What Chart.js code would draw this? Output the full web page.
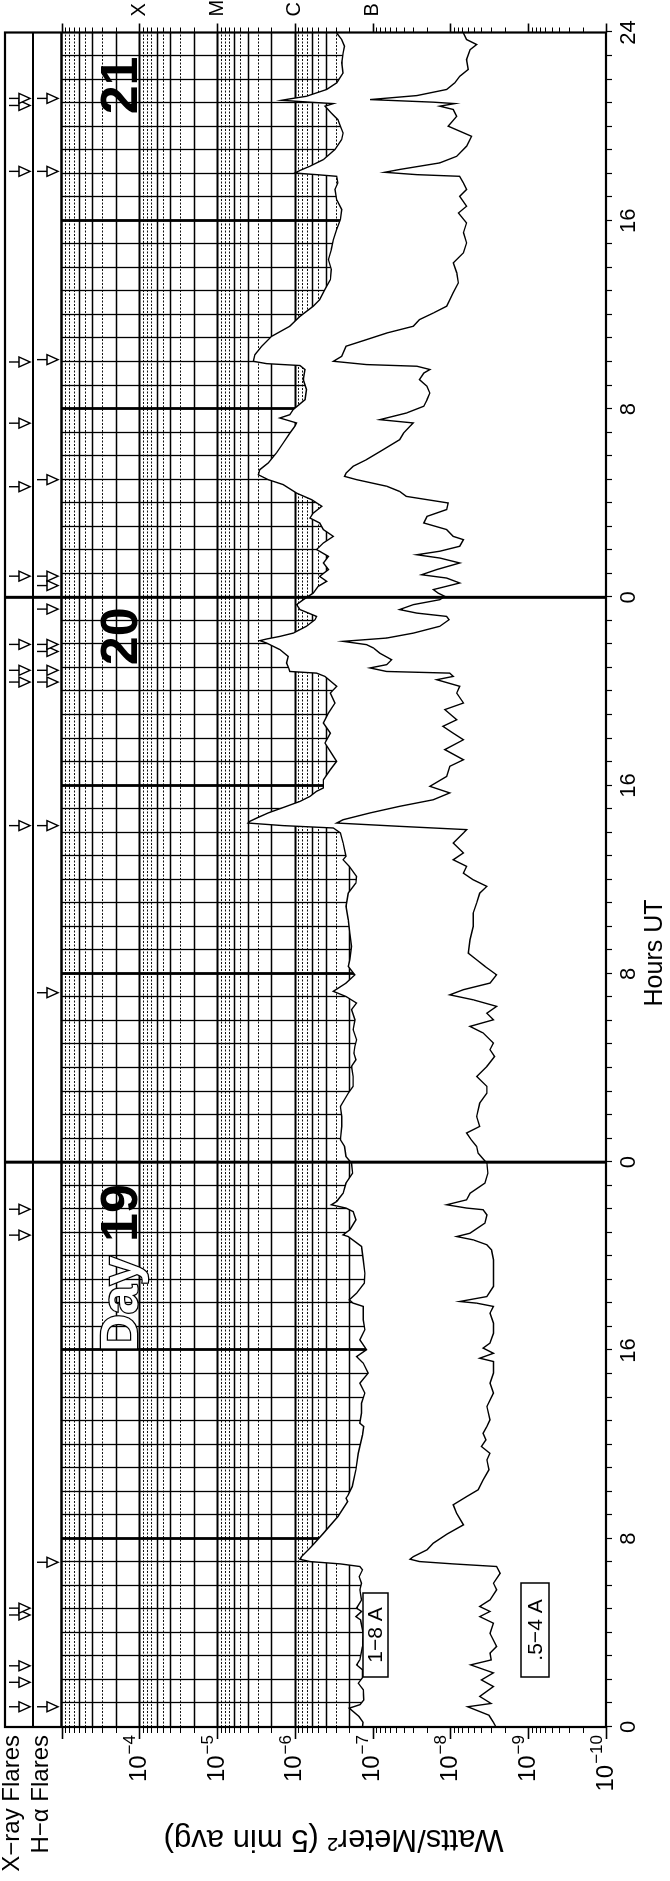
<!DOCTYPE html>
<html><head><meta charset="utf-8">
<script src="https://cdn.jsdelivr.net/npm/chart.js@4.4.1/dist/chart.umd.min.js"></script>
<style>
html,body{margin:0;padding:0;background:#fff;width:670px;height:1881px;overflow:hidden}
#wrap{position:absolute;left:0;top:0;width:1881px;height:670px;transform-origin:0 0;transform:translate(0px,1881px) rotate(-90deg)}
#c{display:block}
</style></head><body>
<div id="wrap"><canvas id="c" width="1881" height="670"></canvas></div>
<script>
// ---- DATA (hours since day 19 00:00 UT, flux in W/m^2) ----
const hoursA = [0,0.2,0.45,0.8,0.95,1.15,1.58,1.86,2.1,2.43,2.64,2.86,3.42,3.98,4.55,4.69,4.91,5.05,5.4,5.83,6.11,6.39,6.68,6.82,6.93,7.03,7.13,7.24,7.67,8.23,8.94,9.58,9.72,9.86,10.22,10.93,11.63,12.41,12.77,12.91,13.34,13.76,14.19,14.61,15.04,15.46,15.74,16.03,16.45,16.88,17.3,17.87,18.01,18.15,18.43,18.86,19.28,19.85,20.42,20.84,20.91,21.13,21.55,21.9,22.05,22.19,22.33,22.68,23.11,23.53,23.96,24.24,24.67,24.95,25.52,25.94,26.37,26.93,27.22,27.64,28.07,28.35,28.63,28.92,29.2,29.63,30.05,30.48,30.76,31.04,31.26,31.61,31.96,32.32,32.6,33.17,33.73,34.3,34.87,35.43,35.86,36.14,36.57,36.85,37.0,37.56,37.99,38.2,38.3,38.41,38.48,38.62,38.84,39.12,39.33,39.54,39.76,39.9,40.25,40.68,41.03,41.38,41.81,42.23,42.66,43.08,43.51,43.93,44.22,44.64,44.78,44.85,45.0,45.21,45.49,45.78,46.06,46.16,46.23,46.34,46.48,46.77,47.05,47.19,47.48,47.69,47.9,48.18,48.47,48.68,48.89,49.18,49.46,49.74,50.03,50.31,50.59,50.88,51.16,51.37,51.58,51.87,52.15,52.43,52.79,53.0,53.21,53.43,53.71,54.14,54.56,54.98,55.27,55.41,55.62,55.76,55.98,56.4,56.83,57.25,57.68,57.85,57.93,58.03,58.31,58.67,59.09,59.52,59.94,60.37,60.65,61.08,61.5,61.93,62.35,62.78,63.2,63.63,64.05,64.48,64.9,65.33,65.61,65.89,65.96,66.03,66.14,66.32,66.6,67.03,67.45,67.73,68.02,68.3,68.58,68.87,68.98,69.04,69.12,69.18,69.29,69.58,69.86,70.28,70.71,71.13,71.42,71.7,71.98,72];
const fluxA = [1.35e-7,1.33e-7,1.5e-7,2.0e-7,1.45e-7,1.3e-7,1.32e-7,1.53e-7,1.35e-7,1.35e-7,1.61e-7,1.46e-7,1.35e-7,1.32e-7,1.43e-7,1.64e-7,1.39e-7,1.61e-7,1.39e-7,1.46e-7,1.39e-7,1.49e-7,1.35e-7,1.46e-7,2.6e-7,6.4e-7,8.6e-7,8.2e-7,6.1e-7,4.3e-7,2.8e-7,2.1e-7,2.2e-7,2.06e-7,1.83e-7,1.64e-7,1.53e-7,1.35e-7,1.3e-7,1.46e-7,1.39e-7,1.39e-7,1.26e-7,1.46e-7,1.14e-7,1.32e-7,1.61e-7,1.2e-7,1.46e-7,1.26e-7,1.32e-7,1.32e-7,1.78e-7,2.0e-7,1.61e-7,1.28e-7,1.26e-7,1.32e-7,1.39e-7,2.06e-7,2.4e-7,1.96e-7,1.64e-7,1.78e-7,2.2e-7,3.4e-7,2.9e-7,2.4e-7,2.2e-7,1.81e-7,1.87e-7,2.2e-7,2.3e-7,2.6e-7,2.5e-7,2.5e-7,2.6e-7,2.06e-7,1.78e-7,1.78e-7,1.87e-7,1.64e-7,1.74e-7,1.69e-7,1.61e-7,1.78e-7,1.69e-7,1.87e-7,1.61e-7,2.2e-7,3.2e-7,2.2e-7,1.69e-7,2.06e-7,1.96e-7,1.87e-7,1.96e-7,2.06e-7,2.2e-7,2.06e-7,1.64e-7,1.61e-7,2.0e-7,2.4e-7,2.2e-7,2.4e-7,2.6e-7,3.2e-7,1.41e-6,4.0e-6,3.8e-6,3.1e-6,2.2e-6,1.28e-6,8.6e-7,6.4e-7,5.25e-7,4.3e-7,4.3e-7,3.5e-7,2.9e-7,3.4e-7,4.1e-7,3.5e-7,4.3e-7,3.7e-7,3.05e-7,3.5e-7,2.9e-7,4.1e-7,5.25e-7,1.16e-6,1.2e-6,1.28e-6,1.22e-6,1.56e-6,2.31e-6,2.81e-6,2.31e-6,1.56e-6,1.05e-6,7.1e-7,5.5e-7,5.25e-7,8.6e-7,9.5e-7,7.8e-7,5.8e-7,5.0e-7,3.9e-7,4.8e-7,3.7e-7,4.3e-7,3.7e-7,5.25e-7,4.3e-7,3.2e-7,4.3e-7,4.8e-7,6.4e-7,5.8e-7,4.5e-7,6.1e-7,9.5e-7,1.41e-6,2.2e-6,2.95e-6,2.81e-6,2.2e-6,1.72e-6,1.41e-6,1.16e-6,1.0e-6,9.5e-7,1.56e-6,1.16e-6,1.05e-6,7.4e-7,7.1e-7,7.8e-7,7.4e-7,8.6e-7,2.31e-6,3.42e-6,3.26e-6,2.67e-6,1.99e-6,1.16e-6,8.6e-7,5.8e-7,4.8e-7,4.1e-7,3.5e-7,3.4e-7,3.7e-7,3.4e-7,3.2e-7,2.9e-7,2.6e-7,2.5e-7,2.9e-7,3.05e-7,2.8e-7,2.9e-7,5.25e-7,1.0e-6,8.6e-7,6.4e-7,4.3e-7,3.05e-7,2.5e-7,2.4e-7,2.6e-7,2.8e-7,3.4e-7,4.1e-7,3.2e-7,6.4e-7,1.48e-6,1.16e-6,7.1e-7,3.9e-7,2.9e-7,2.4e-7,2.5e-7,2.4e-7,2.3e-7,2.5e-7,2.9e-7,2.9e-7];
const hoursB = [0,0.2,0.5,0.86,1.0,1.3,1.72,2.0,2.3,2.64,2.85,3.14,3.42,3.98,4.41,4.69,4.91,5.12,5.4,5.83,6.11,6.53,6.82,6.93,7.03,7.13,7.24,7.53,7.81,8.2,8.59,9.08,9.44,9.79,10.08,10.5,10.93,11.35,11.63,11.92,12.2,12.48,12.77,13.05,13.62,14.19,14.61,15.04,15.53,15.67,15.88,16.1,16.31,16.73,17.16,17.58,17.87,18.01,18.08,18.29,18.72,19.28,19.85,20.27,20.49,20.7,20.84,20.98,21.41,21.76,21.98,22.05,22.19,22.4,22.68,23.11,23.53,23.96,24.38,24.67,24.95,25.24,25.52,25.94,26.51,26.93,27.22,27.64,28.07,28.49,28.78,29.06,29.49,29.77,30.05,30.33,30.62,30.9,31.11,31.33,31.61,31.96,32.32,32.6,32.88,33.45,34.02,34.58,35.01,35.43,35.72,36.0,36.28,36.57,36.85,37.14,37.56,37.99,38.13,38.27,38.41,38.55,38.84,39.12,39.4,39.69,39.97,40.39,40.82,41.1,41.53,41.95,42.23,42.52,42.8,43.23,43.51,43.93,44.22,44.5,44.64,44.78,44.85,45.0,45.14,45.35,45.63,45.85,45.99,46.13,46.27,46.48,46.77,47.05,47.19,47.33,47.48,47.69,47.9,48.04,48.18,48.33,48.47,48.61,48.82,48.96,49.18,49.46,49.67,49.81,49.96,50.17,50.45,50.59,50.88,51.16,51.44,51.73,52.01,52.29,52.5,52.72,53.0,53.14,53.28,53.57,53.85,54.28,54.7,54.98,55.27,55.41,55.55,55.83,56.12,56.4,56.68,56.97,57.25,57.53,57.68,57.82,57.89,58.03,58.24,58.67,58.95,59.23,59.52,59.8,60.08,60.37,60.65,60.94,61.36,61.79,62.21,62.64,63.06,63.49,63.91,64.33,64.62,65.04,65.33,65.61,65.89,65.96,66.06,66.18,66.46,66.74,67.17,67.59,68.02,68.44,68.73,68.87,68.98,69.04,69.15,69.32,69.58,69.86,70.14,70.43,70.85,71.27,71.49,71.7,71.98];
const fluxB = [2.6e-9,2.8e-9,3.2e-9,6.0e-9,3.0e-9,4.2e-9,2.8e-9,4.0e-9,2.8e-9,5.5e-9,3.0e-9,3.1e-9,2.55e-9,3.1e-9,2.8e-9,4.2e-9,3.1e-9,4.2e-9,3.1e-9,2.55e-9,2.8e-9,2.3e-9,2.55e-9,9.2e-9,2.5e-8,3.3e-8,3.0e-8,2.0e-8,1.66e-8,1.1e-8,6.8e-9,8.3e-9,9.2e-9,6.2e-9,4.4e-9,3.8e-9,3.2e-9,3.4e-9,3.1e-9,4.0e-9,3.5e-9,3.8e-9,3.4e-9,3.1e-9,3.4e-9,2.8e-9,3.1e-9,2.8e-9,2.8e-9,4.2e-9,2.8e-9,3.8e-9,3.1e-9,2.8e-9,2.8e-9,3.1e-9,2.8e-9,4.6e-9,7.6e-9,3.4e-9,2.8e-9,2.8e-9,2.8e-9,2.96e-9,3.4e-9,5.1e-9,8.3e-9,5.6e-9,3.6e-9,3.4e-9,3.8e-9,6.2e-9,1.12e-8,6.2e-9,5.6e-9,3.6e-9,3.3e-9,3.4e-9,4.4e-9,4.6e-9,5.4e-9,6.2e-9,4.2e-9,4.6e-9,4.2e-9,3.4e-9,3.4e-9,4.6e-9,3.4e-9,2.7e-9,3.1e-9,2.8e-9,3.8e-9,5.6e-9,2.8e-9,3.4e-9,2.55e-9,5.1e-9,1.02e-8,6.8e-9,3.1e-9,2.55e-9,3.6e-9,4.6e-9,5.9e-9,5.6e-9,5.1e-9,5.1e-9,4.6e-9,4.2e-9,3.4e-9,5.1e-9,6.8e-9,6.2e-9,9.2e-9,6.8e-9,9.2e-9,6.8e-9,6.2e-9,4.5e-8,2.9e-7,2.4e-7,1.08e-7,4.5e-8,1.66e-8,1.02e-8,1.84e-8,1.12e-8,1.02e-8,6.8e-9,1.18e-8,6.8e-9,9.2e-9,1.25e-8,8.3e-9,1.18e-8,6.8e-9,8.3e-9,7.6e-9,1.5e-8,9.2e-9,1.02e-8,6.6e-8,1.08e-7,6.6e-8,5.7e-8,8.1e-8,9.8e-8,1.2e-7,2.4e-7,6.6e-8,3.0e-8,1.37e-8,1.04e-8,1.12e-8,2.7e-8,4.5e-8,3.0e-8,1.37e-8,1.18e-8,1.44e-8,1.66e-8,1.12e-8,7.6e-9,1.12e-8,2.35e-8,1.5e-8,7.6e-9,1.37e-8,2.7e-8,1.37e-8,7.6e-9,6.8e-9,9.2e-9,1.12e-8,2.2e-8,2.0e-8,1.12e-8,1.07e-8,3.7e-8,4.5e-8,6.6e-8,1.61e-7,2.3e-7,2.2e-7,1.78e-7,1.2e-7,7.3e-8,4.5e-8,4.0e-8,3.3e-8,3.0e-8,8.1e-8,3.7e-8,2.2e-8,2.0e-8,1.84e-8,2.0e-8,2.5e-8,2.2e-8,1.84e-8,2.7e-8,1.2e-7,3.2e-7,2.5e-7,2.2e-7,1.2e-7,6.6e-8,3.0e-8,2.5e-8,1.66e-8,1.12e-8,1.02e-8,9.2e-9,7.9e-9,8.3e-9,9.2e-9,6.8e-9,6.2e-9,6.8e-9,6.2e-9,7.9e-9,6.2e-9,7.6e-9,6.2e-9,6.8e-9,7.6e-9,2.7e-8,7.0e-8,4.5e-8,1.37e-8,8.3e-9,6.2e-9,5.35e-9,1.07e-8,8.3e-9,9.2e-9,1.37e-8,8.8e-9,1.66e-8,1.08e-7,2.7e-8,1.12e-8,8.8e-9,7.6e-9,5.9e-9,6.2e-9,5.6e-9,4.6e-9,6.2e-9,6.8e-9];
const xrayFlareHours = [0.86,1.9,2.6,4.76,5.05,20.9,22.0,38.3,44.4,44.9,46.0,48.9,52.7,55.4,58.0,66.1,68.9,69.2];
const haFlareHours = [0.86,7.0,31.2,38.3,44.4,44.9,45.7,46.0,47.5,48.5,48.9,53.0,58.1,66.1,69.2];
const hourTicks = Array.from({length:73},(_, i)=>i);
const hourLabels = {0:'0',8:'8',16:'16',24:'0',32:'8',40:'16',48:'0',56:'8',64:'16',72:'24'};
const decadeValues = [1e-10,1e-9,1e-8,1e-7,1e-6,1e-5,1e-4,1e-3];
const decadeExps = ['10','9','8','7','6','5','4',''];
const mantissas = [1,2,3,4,5,6,7,8,9];
const classValues = [1e-4,1e-5,1e-6,1e-7];
const classLetters = ['X','M','C','B'];
const dayLabels = [{end:24,text:'19',off:22,day:true},{end:48,text:'20',off:10},{end:72,text:'21',off:24}];

const FONT = '"Liberation Sans", Arial, Helvetica, sans-serif';
const FLUX_GRID = [];
decadeValues.slice(0,7).forEach(d => mantissas.forEach(m => FLUX_GRID.push({v:d*m, m})));

const gridPlugin = {
  id:'goesGrid',
  beforeDatasetsDraw(chart){
    const {ctx, chartArea:a, scales:{x, y}} = chart;
    ctx.save();
    ctx.strokeStyle = '#000';
    for (const g of FLUX_GRID) {
      if (g.v <= 1e-10 * 1.0001) continue;
      const py = Math.round(y.getPixelForValue(g.v)) + 0.5;
      if (g.m === 1) { ctx.lineWidth = 2.2; ctx.setLineDash([]); ctx.strokeStyle='#000'; }
      else if (g.m === 2 || g.m === 4 || g.m === 6) { ctx.lineWidth = 1.3; ctx.setLineDash([]); ctx.strokeStyle='#000'; }
      else { ctx.lineWidth = 1.1; ctx.setLineDash([2,1.5]); ctx.strokeStyle='#111'; }
      ctx.beginPath(); ctx.moveTo(a.left, py); ctx.lineTo(a.right, py); ctx.stroke();
    }
    ctx.setLineDash([]);
    ctx.strokeStyle = '#000';
    for (const h of hourTicks) {
      if (h % 24 === 0) continue;
      const px = Math.round(x.getPixelForValue(h)) + 0.5;
      ctx.lineWidth = (h % 8 === 0) ? 2.8 : 1.3;
      ctx.beginPath(); ctx.moveTo(px, a.top); ctx.lineTo(px, a.bottom); ctx.stroke();
    }
    ctx.restore();
  }
};

const overlayPlugin = {
  id:'goesOverlay',
  afterDatasetsDraw(chart){
    const {ctx, chartArea:a, scales:{x, y}} = chart;
    ctx.save();
    ctx.strokeStyle = '#000'; ctx.fillStyle = '#000'; ctx.setLineDash([]);
    const TOP = 5, MID = 33;
    ctx.lineWidth = 3;
    [24,48].forEach(h => { const px = x.getPixelForValue(h); ctx.beginPath(); ctx.moveTo(px, TOP); ctx.lineTo(px, a.bottom); ctx.stroke(); });
    ctx.lineWidth = 2.2;
    ctx.strokeRect(a.left, TOP, a.right - a.left, a.bottom - TOP);
    ctx.lineWidth = 1.8;
    ctx.beginPath(); ctx.moveTo(a.left, MID); ctx.lineTo(a.right, MID); ctx.stroke();
    ctx.lineWidth = 2.4;
    ctx.beginPath(); ctx.moveTo(a.left, a.top); ctx.lineTo(a.right, a.top); ctx.stroke();
    const allFlux = FLUX_GRID.concat([{v:1e-3, m:1}]);
    for (const g of allFlux) {
      const py = Math.round(y.getPixelForValue(g.v)) + 0.5;
      const l1 = g.m === 1 ? 12 : 6, l2 = g.m === 1 ? 9 : 5;
      ctx.lineWidth = g.m === 1 ? 1.6 : 1;
      ctx.beginPath(); ctx.moveTo(a.left, py); ctx.lineTo(a.left - l1, py); ctx.stroke();
      ctx.beginPath(); ctx.moveTo(a.right, py); ctx.lineTo(a.right + l2, py); ctx.stroke();
    }
    ctx.lineWidth = 1.2;
    for (const h of hourTicks) {
      const px = Math.round(x.getPixelForValue(h)) + 0.5;
      ctx.beginPath(); ctx.moveTo(px, a.bottom); ctx.lineTo(px, a.bottom + 6); ctx.stroke();
    }
    const arrow = (h, s0, s1, t1) => {
      const px = x.getPixelForValue(h);
      ctx.lineWidth = 1.4;
      ctx.beginPath(); ctx.moveTo(px, s0); ctx.lineTo(px, s1); ctx.stroke();
      ctx.beginPath(); ctx.moveTo(px - 5, s1); ctx.lineTo(px + 5, s1); ctx.lineTo(px, t1); ctx.closePath();
      ctx.fillStyle = '#fff'; ctx.fill(); ctx.stroke();
    };
    xrayFlareHours.forEach(h => arrow(h, 9, 19, 30));
    haFlareHours.forEach(h => arrow(h, 37, 47, 58));
    ctx.fillStyle = '#000';
    decadeValues.forEach((v, i) => {
      if (!decadeExps[i]) return;
      const py = y.getPixelForValue(v);
      ctx.textBaseline = 'middle'; ctx.textAlign = 'right';
      ctx.font = '17px ' + FONT;
      const exp = '\u2212' + decadeExps[i];
      const we = ctx.measureText(exp).width;
      ctx.fillText(exp, a.left - 8, py - 9);
      ctx.font = '24px ' + FONT;
      ctx.fillText('10', a.left - 9 - we, py);
    });
    ctx.font = '24px ' + FONT; ctx.textAlign = 'right'; ctx.textBaseline = 'middle';
    ctx.fillText('X\u2212ray Flares', a.left - 8, 12);
    ctx.fillText('H\u2212\u03b1 Flares', a.left - 8, 41);
    ctx.save();
    ctx.translate(42, (a.top + a.bottom) / 2);
    ctx.rotate(-Math.PI / 2);
    ctx.textAlign = 'center'; ctx.textBaseline = 'middle';
    ctx.font = '31px ' + FONT;
    ctx.fillText('Watts/Meter\u00b2 (5 min avg)', 0, 0);
    ctx.restore();
    ctx.font = '25px ' + FONT; ctx.textAlign = 'center'; ctx.textBaseline = 'middle';
    ctx.fillText('Hours UT', 928, 655);
    ctx.font = 'bold 52px ' + FONT; ctx.textBaseline = 'alphabetic'; ctx.textAlign = 'right';
    dayLabels.forEach(d => {
      const r = x.getPixelForValue(d.end) - d.off;
      ctx.fillStyle = '#000';
      ctx.fillText(d.text, r, 137);
      if (d.day) {
        const w = ctx.measureText(d.text + ' ').width;
        ctx.fillStyle = '#fff'; ctx.lineWidth = 2.5; ctx.strokeStyle = '#000';
        ctx.strokeText('Day', r - w, 137);
        ctx.fillText('Day', r - w, 137);
      }
    });
    const box = (x0, y0, w, h, t) => {
      ctx.fillStyle = '#fff'; ctx.fillRect(x0, y0, w, h);
      ctx.lineWidth = 1.5; ctx.strokeStyle = '#000'; ctx.strokeRect(x0, y0, w, h);
      ctx.fillStyle = '#000'; ctx.font = '21px ' + FONT; ctx.textAlign = 'center'; ctx.textBaseline = 'middle';
      ctx.fillText(t, x0 + w / 2, y0 + h / 2 + 1);
    };
    box(204, 363, 84, 25, '1\u22128 A');
    box(204, 521, 94, 28, '.5\u22124 A');
    ctx.restore();
  }
};

const chart = new Chart(document.getElementById('c'), {
  type: 'line',
  data: {
    datasets: [
      { label: '.5-4 A', data: hoursB.map((h, i) => ({x: h, y: fluxB[i]})), borderColor: '#000', borderWidth: 1.4, pointRadius: 0, fill: false, tension: 0 },
      { label: '1-8 A', data: hoursA.map((h, i) => ({x: h, y: fluxA[i]})), borderColor: '#000', borderWidth: 1.4, pointRadius: 0, fill: 'start', backgroundColor: '#fff', tension: 0 }
    ]
  },
  options: {
    responsive: false, animation: false, devicePixelRatio: 1,
    layout: { padding: { top: 61.5, left: 0, right: 0, bottom: 0 } },
    plugins: { legend: { display: false }, tooltip: { enabled: false } },
    scales: {
      x: {
        type: 'linear', min: 0, max: 72, position: 'bottom',
        afterBuildTicks: s => { s.ticks = hourTicks.map(v => ({value: v})); },
        afterFit: s => { s.height = 64; },
        grid: { display: false, drawTicks: false }, border: { display: false },
        ticks: { autoSkip: false, maxRotation: 0, padding: 10, color: '#000', font: { family: FONT, size: 22 },
          callback: v => (hourLabels[v] !== undefined ? hourLabels[v] : '') }
      },
      y: {
        type: 'logarithmic', min: 1e-10, max: 1e-3, position: 'left',
        afterFit: s => { s.width = 154; },
        grid: { display: false, drawTicks: false }, border: { display: false },
        ticks: { display: false }
      },
      y2: {
        type: 'logarithmic', min: 1e-10, max: 1e-3, position: 'right',
        afterBuildTicks: s => { s.ticks = classValues.map(v => ({value: v})); },
        afterFit: s => { s.width = 32.5; },
        grid: { display: false, drawTicks: false }, border: { display: false },
        ticks: { padding: 16, color: '#000', font: { family: FONT, size: 20 },
          callback: (v) => { const i = classValues.findIndex(c => Math.abs(c - v) / c < 1e-6); return i >= 0 ? classLetters[i] : ''; } }
      }
    }
  },
  plugins: [gridPlugin, overlayPlugin]
});
</script>
</body></html>
